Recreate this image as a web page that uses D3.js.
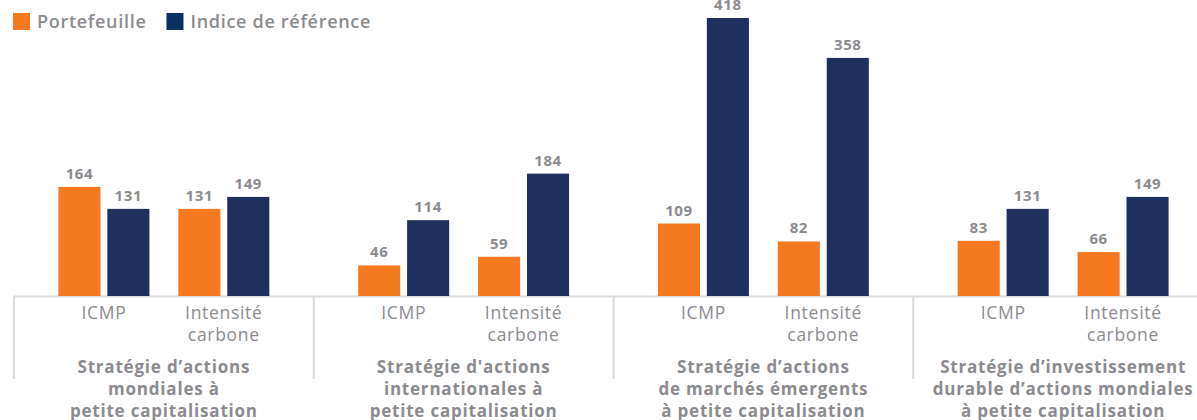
<!DOCTYPE html>
<html>
<head>
<meta charset="utf-8">
<script src="https://cdn.jsdelivr.net/npm/d3@7"></script>
<style>
  body { margin: 0; background: #fff; }
  svg text { font-family: "Open Sans", sans-serif; fill: #8b8b8f; }
</style>
</head>
<body>
<div id="chart"></div>
<script>
const groups = [
    ["Stratégie d’actions", "mondiales à", "petite capitalisation"],
    ["Stratégie d'actions", "internationales à", "petite capitalisation"],
    ["Stratégie d’actions", "de marchés émergents", "à petite capitalisation"],
    ["Stratégie d’investissement", "durable d’actions mondiales", "à petite capitalisation"]
];
const metrics = [["ICMP"], ["Intensité", "carbone"]];
const seriesNames = ["Portefeuille", "Indice de référence"];
// values per group: [ICMP, Intensité carbone]
const portefeuille = [[164, 131], [46, 59], [109, 82], [83, 66]];
const indice = [[131, 149], [114, 184], [418, 358], [131, 149]];

const width = 1197, height = 420;
const baseline = 296;
const colors = ["#f47920", "#1f2f5e"];
const legendColors = ["#f47920", "#0a3062"];

const svg = d3.select("#chart")
    .append("svg")
    .attr("width", width)
    .attr("height", height);

const gx = d3.scaleBand()
    .domain(d3.range(groups.length))
    .range([14, 14 + 299.75 * 4]);

const mx = d3.scalePoint()
    .domain(d3.range(metrics.length))
    .range([0, gx.bandwidth()])
    .padding(0.75);

const sx = d3.scaleBand()
    .domain(d3.range(seriesNames.length))
    .range([-45.5, 45.5])
    .paddingInner(0.14);

const y = d3.scaleLinear()
    .domain([0, 418])
    .range([baseline, 18]);

// legend
const legend = svg.append("g");
let lx = 13;
seriesNames.forEach((name, i) => {
    legend.append("rect")
        .attr("x", lx).attr("y", 13)
        .attr("width", 17).attr("height", 17)
        .attr("fill", legendColors[i]);
    const t = legend.append("text")
        .attr("x", lx + 24).attr("y", 28)
        .attr("font-size", "18px")
        .attr("font-weight", 600)
        .attr("letter-spacing", "0.7px")
        .text(name);
    lx += 24 + t.node().getComputedTextLength() + 20;
});

// axis line + separators
svg.append("line")
    .attr("x1", 14).attr("x2", width)
    .attr("y1", baseline + 0.5).attr("y2", baseline + 0.5)
    .attr("stroke", "#d9d9d9").attr("stroke-width", 2);

svg.selectAll(".sep")
    .data(d3.range(groups.length))
    .join("line")
    .attr("class", "sep")
    .attr("x1", d => gx(d)).attr("x2", d => gx(d))
    .attr("y1", baseline).attr("y2", 379)
    .attr("stroke", "#d9d9d9").attr("stroke-width", 2);

const rows = [];
groups.forEach((g, gi) => {
    metrics.forEach((m, mi) => {
        [portefeuille, indice].forEach((s, si) => {
            rows.push({ gi, mi, si, value: s[gi][mi] });
        });
    });
});

const bx = d => gx(d.gi) + mx(d.mi) + sx(d.si);

svg.selectAll(".bar")
    .data(rows)
    .join("rect")
    .attr("class", "bar")
    .attr("x", bx)
    .attr("y", d => y(d.value))
    .attr("width", sx.bandwidth())
    .attr("height", d => baseline - y(d.value))
    .attr("fill", d => colors[d.si]);

svg.selectAll(".val")
    .data(rows)
    .join("text")
    .attr("class", "val")
    .attr("x", d => bx(d) + sx.bandwidth() / 2)
    .attr("y", d => y(d.value) - 8)
    .attr("text-anchor", "middle")
    .attr("font-size", "15px")
    .attr("font-weight", 700)
    .attr("letter-spacing", "0.6px")
    .text(d => d.value);

// metric labels
groups.forEach((g, gi) => {
    metrics.forEach((m, mi) => {
        m.forEach((line, li) => {
            svg.append("text")
                .attr("x", gx(gi) + mx(mi))
                .attr("y", 319 + li * 22)
                .attr("text-anchor", "middle")
                .attr("font-size", "17.5px")
                .attr("letter-spacing", "0.7px")
                .text(line);
        });
    });
    g.forEach((line, li) => {
        svg.append("text")
            .attr("x", gx(gi) + gx.bandwidth() / 2)
            .attr("y", 373 + li * 22)
            .attr("text-anchor", "middle")
            .attr("font-size", "17px")
            .attr("font-weight", 700)
            .attr("letter-spacing", "0.8px")
            .text(line);
    });
});
</script>
</body>
</html>
